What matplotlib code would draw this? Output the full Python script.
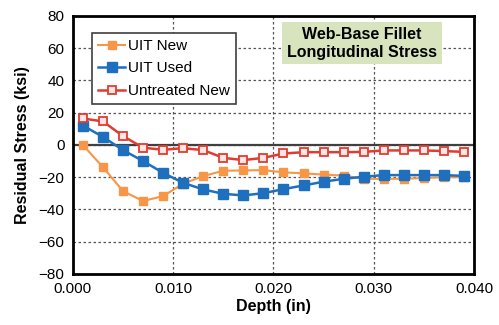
import matplotlib.pyplot as plt

depth = [0.001, 0.003, 0.005, 0.007, 0.009, 0.011, 0.013, 0.015, 0.017, 0.019,
         0.021, 0.023, 0.025, 0.027, 0.029, 0.031, 0.033, 0.035, 0.037, 0.039]
uit_new = [0, -13.8, -28.6, -34.8, -31.7, -24, -19.3, -16, -15.8, -15.6,
           -17, -17.6, -18.4, -19, -21, -21, -21, -20.5, -20, -20]
uit_used = [12, 5, -3.2, -10, -17.3, -23.5, -27.6, -30.3, -31.3, -29.9,
            -27.4, -25.1, -22.8, -21, -19.7, -18.7, -18.7, -18.7, -18.7, -19.2]
untreated_new = [16.4, 14.6, 5.5, -1.7, -3, -2, -3.2, -8, -9.4, -8,
                 -5.3, -4.5, -4.5, -4.5, -4.3, -3.4, -3.4, -3.4, -3.8, -4.3]

xticks = [0.000, 0.010, 0.020, 0.030, 0.040]
yticks = [-80, -60, -40, -20, 0, 20, 40, 60, 80]

plt.rcParams["font.family"] = ["Liberation Sans", "DejaVu Sans"]

fig = plt.figure(figsize=(4.99, 3.25), dpi=100)
ax = fig.add_axes([0.146, 0.157, 0.804, 0.794])

ax.plot(depth, uit_new, color="#F79646", lw=1.5, marker="s", ms=5.5,
        label="UIT New", zorder=3)
ax.plot(depth, uit_used, color="#1F6FBF", lw=1.8, marker="s", ms=7.5,
        label="UIT Used", zorder=4)
ax.plot(depth, untreated_new, color="#E03C31", lw=1.8, marker="s", ms=6,
        mfc="#FDE6E4", mew=1.3, label="Untreated New", zorder=5)

ax.axhline(0, color="#404040", lw=1.6, zorder=2)
ax.grid(True, ls=(0, (2, 2)), color="#555555", lw=0.9)

ax.set_xlim(0, 0.040)
ax.set_ylim(-80, 80)
ax.set_xticks(xticks)
ax.set_xticklabels([f"{t:.3f}" for t in xticks])
ax.set_yticks(yticks)
ax.tick_params(length=0, labelsize=11, pad=6)
for s in ax.spines.values():
    s.set_linewidth(2)
    s.set_color("black")

ax.set_xlabel("Depth (in)", fontsize=11.5, fontweight="bold", labelpad=2)
ax.set_ylabel("Residual Stress (ksi)", fontsize=11.5, fontweight="bold", labelpad=6)

leg = ax.legend(loc="upper left", bbox_to_anchor=(0.047, 0.934), fontsize=11,
                fancybox=False, framealpha=1, edgecolor="#404040",
                borderaxespad=0, handlelength=1.8, handletextpad=0.2,
                borderpad=0.4, labelspacing=0.55)
leg.get_frame().set_linewidth(1.2)

ax.text(0.72, 0.895, "Web-Base Fillet\nLongitudinal Stress", transform=ax.transAxes,
        ha="center", va="center", fontsize=11.5, fontweight="bold",
        linespacing=1.25,
        bbox=dict(boxstyle="square,pad=0.3", fc="#D7E4BD", ec="none"))

fig.savefig("out.png", dpi=100)
